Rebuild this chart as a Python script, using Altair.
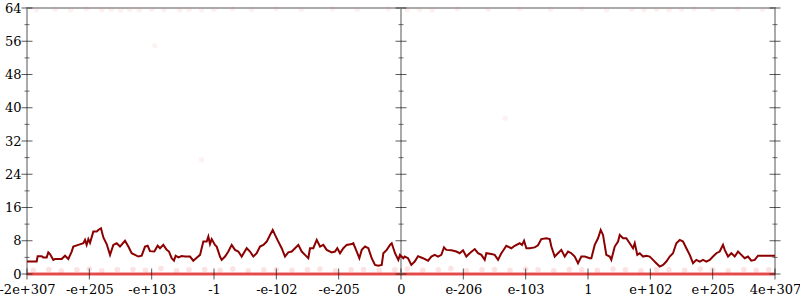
import altair as alt
import pandas as pd

# tick labels along x (evenly spaced ordinal-float positions)
x_labels = ["-2e+307", "-e+205", "-e+103", "-1", "-e-102", "-e-205", "0",
            "e-206", "e-103", "1", "e+102", "e+205", "4e+307"]
x_ticks = list(range(13))
y_major = [0, 8, 16, 24, 32, 40, 48, 56, 64]
y_minor = [4, 12, 20, 28, 36, 44, 52, 60]
axis_positions = [0, 6, 12]

# main error line (position index, bits of error)
line_x = [0.00, 0.155, 0.171, 0.235, 0.262, 0.316, 0.342, 0.369, 0.422, 0.449, 0.556, 0.610,
          0.663, 0.717, 0.743, 0.823, 0.904, 0.931, 0.957, 0.984, 1.011, 1.064, 1.118, 1.144,
          1.187, 1.225, 1.278, 1.332, 1.385, 1.439, 1.492, 1.572, 1.626, 1.679, 1.733, 1.786,
          1.840, 1.893, 1.936, 1.973, 2.043, 2.096, 2.134, 2.187, 2.241, 2.278, 2.321, 2.358,
          2.385, 2.428, 2.481, 2.535, 2.615, 2.668, 2.722, 2.776, 2.829, 2.883, 2.909, 2.936,
          2.963, 3.016, 3.043, 3.096, 3.123, 3.177, 3.230, 3.284, 3.337, 3.390, 3.444, 3.525,
          3.578, 3.631, 3.685, 3.738, 3.792, 3.846, 3.899, 3.942, 3.979, 4.032, 4.086, 4.139,
          4.192, 4.247, 4.300, 4.353, 4.407, 4.460, 4.513, 4.540, 4.593, 4.648, 4.701, 4.754,
          4.808, 4.888, 4.941, 4.978, 5.022, 5.075, 5.129, 5.209, 5.235, 5.290, 5.332, 5.370,
          5.423, 5.476, 5.530, 5.583, 5.636, 5.691, 5.717, 5.771, 5.824, 5.851, 5.904, 5.957,
          5.984, 6.037, 6.059, 6.113, 6.166, 6.220, 6.273, 6.353, 6.434, 6.487, 6.541, 6.594,
          6.647, 6.690, 6.727, 6.807, 6.888, 6.942, 6.995, 7.048, 7.102, 7.183, 7.236, 7.289,
          7.343, 7.369, 7.449, 7.503, 7.557, 7.610, 7.664, 7.690, 7.770, 7.824, 7.904, 7.941,
          7.974, 8.011, 8.065, 8.145, 8.198, 8.251, 8.332, 8.386, 8.412, 8.466, 8.519, 8.572,
          8.627, 8.680, 8.733, 8.787, 8.840, 8.893, 8.948, 9.028, 9.054, 9.108, 9.161, 9.204,
          9.241, 9.294, 9.349, 9.374, 9.429, 9.482, 9.509, 9.562, 9.615, 9.669, 9.722, 9.750,
          9.791, 9.830, 9.883, 9.936, 9.990, 10.043, 10.096, 10.151, 10.204, 10.257, 10.311,
          10.364, 10.417, 10.472, 10.525, 10.578, 10.632, 10.685, 10.738, 10.793, 10.846,
          10.899, 10.953, 11.006, 11.059, 11.113, 11.166, 11.194, 11.247, 11.300, 11.354,
          11.407, 11.460, 11.514, 11.567, 11.620, 11.675, 11.728, 12.0]
line_y = [3.0, 3.0, 4.3, 4.3, 4.0, 4.0, 5.2, 4.8, 3.4, 3.6, 3.6, 4.4,
          3.6, 5.4, 6.6, 7.0, 7.4, 8.2, 7.0, 8.4, 7.5, 10.2, 10.2, 10.6,
          11.0, 8.8, 7.2, 4.6, 7.0, 7.4, 6.6, 8.0, 6.6, 5.0, 4.6, 4.2,
          4.4, 6.6, 6.8, 5.5, 5.4, 6.8, 6.2, 7.0, 5.8, 5.4, 3.8, 3.2,
          4.4, 4.0, 4.3, 4.2, 4.2, 3.2, 3.9, 4.6, 7.8, 7.8, 9.0, 7.2,
          8.4, 7.0, 6.6, 4.2, 3.4, 4.2, 5.4, 7.0, 5.8, 5.4, 4.2, 6.2,
          5.4, 4.2, 5.0, 6.6, 7.0, 7.8, 9.4, 10.6, 9.4, 7.8, 6.2, 4.2,
          5.2, 5.4, 6.2, 7.0, 5.4, 4.6, 3.8, 6.2, 6.2, 8.2, 6.6, 7.0,
          5.8, 5.2, 5.4, 6.2, 5.0, 6.2, 7.0, 7.2, 7.4, 5.4, 3.8, 5.8,
          6.6, 6.2, 3.8, 2.2, 2.0, 2.2, 5.0, 5.8, 7.0, 7.4, 5.0, 3.4,
          4.6, 3.8, 4.2, 3.8, 2.2, 3.0, 4.3, 3.8, 3.2, 4.2, 4.6, 4.2,
          4.6, 6.4, 5.8, 5.7, 5.4, 5.0, 5.7, 4.2, 5.0, 6.0, 5.0, 4.6,
          3.4, 5.0, 4.8, 4.6, 3.4, 5.0, 6.2, 6.8, 6.2, 6.8, 7.4, 7.0,
          8.0, 6.2, 6.2, 6.4, 6.9, 8.4, 8.6, 8.4, 6.6, 4.2, 5.0, 5.8,
          4.2, 5.4, 5.0, 4.2, 2.6, 4.2, 4.2, 3.8, 3.8, 7.0, 8.6, 10.6,
          9.4, 4.6, 4.2, 3.4, 6.6, 7.8, 9.4, 8.6, 8.6, 7.4, 6.2, 7.4,
          4.6, 5.0, 4.2, 4.4, 4.2, 3.4, 2.6, 1.8, 2.2, 3.0, 4.2,
          5.0, 7.4, 8.2, 7.8, 6.2, 4.6, 2.6, 3.4, 3.0, 3.4,
          3.0, 3.4, 4.2, 5.0, 5.4, 7.0, 5.8, 4.2, 5.0, 4.2,
          5.4, 4.6, 3.8, 4.2, 3.2, 3.4, 4.4, 4.4]

# faint sample points near zero error
low_x = [0.1, 0.35, 0.55, 0.8, 1.0, 1.2, 1.45, 1.7, 1.9, 2.15, 2.4, 2.6, 2.85, 3.1,
         3.3, 3.55, 3.8, 4.0, 4.25, 4.5, 4.7, 4.95, 5.2, 5.4, 5.65, 5.9, 6.1, 6.35,
         6.6, 6.8, 7.05, 7.3, 7.5, 7.75, 8.0, 8.2, 8.45, 8.7, 8.9, 9.15, 9.4, 9.6,
         9.85, 10.1, 10.3, 10.55, 10.8, 11.0, 11.25, 11.5, 11.7, 11.9]
low_y = [0.9, 1.1, 0.7, 1.0, 1.2, 0.8, 1.0, 1.1, 0.9, 1.3, 0.8, 1.0, 1.1, 0.9,
         1.2, 0.8, 1.0, 1.1, 0.9, 1.0, 1.2, 0.8, 1.0, 1.1, 0.9, 1.0, 1.2, 0.9,
         1.0, 1.3, 0.8, 1.0, 1.1, 0.9, 1.2, 1.0, 0.8, 1.1, 1.0, 0.9, 1.2, 1.0,
         0.8, 1.1, 1.0, 0.9, 1.2, 1.0, 0.8, 1.1, 0.9, 1.0]

# faint sample points near maximum error
high_x = [0.15, 0.45, 0.7, 0.95, 1.2, 1.35, 1.5, 1.65, 1.8, 2.0, 2.2, 2.45, 2.6, 2.8,
          3.0, 3.3, 3.6, 4.0, 4.4, 4.9, 5.3, 5.8, 6.1, 6.3, 6.5, 6.9, 7.4, 7.9, 8.4,
          8.9, 9.3, 9.7, 9.9, 10.1, 10.3, 10.5, 10.7, 11.0, 11.4, 11.8]
high_y = [63.6, 63.7, 63.6, 63.8, 63.6, 63.7, 63.5, 63.7, 63.6, 63.7, 63.6, 63.5, 63.7, 63.6,
          63.7, 63.8, 63.7, 63.8, 63.7, 63.8, 63.7, 63.8, 63.6, 63.7, 63.6, 63.8, 63.7, 63.8,
          63.7, 63.8, 63.6, 63.7, 63.6, 63.7, 63.6, 63.7, 63.8, 63.7, 63.8, 63.7]

stray_x = [2.05, 7.67, 2.8]
stray_y = [54.9, 37.5, 27.5]

FONT = "DejaVu Serif"
XS = alt.Scale(domain=[0, 12], nice=False, zero=False)
YS = alt.Scale(domain=[0, 64], nice=False, zero=False)

line_df = pd.DataFrame({"x": line_x, "y": line_y})
low_df = pd.DataFrame({"x": low_x, "y": low_y})
high_df = pd.DataFrame({"x": high_x, "y": high_y})
stray_df = pd.DataFrame({"x": stray_x, "y": stray_y})
band_df = pd.DataFrame({"x": [x_ticks[0]], "x2": [x_ticks[-1]], "y": [0]})
mid_df = pd.DataFrame({"x": [axis_positions[1]], "y": [y_major[0]], "y2": [y_major[-1]]})
ymaj_df = pd.DataFrame([{"x": a, "y": v} for a in axis_positions for v in y_major])
ymin_df = pd.DataFrame([{"x": a, "y": v} for a in axis_positions for v in y_minor])
xt_df = pd.DataFrame({"x": x_ticks, "y": [0] * len(x_ticks)})

label_js = "[" + ",".join("'%s'" % s for s in x_labels) + "][datum.value]"

common = dict(title=None, ticks=False, tickSize=0, domain=False, grid=False,
              labelFont=FONT, labelFontSize=13, labelColor="#000",
              labelFlush=False, labelOverlap=False, labelBound=False)
X_AXIS = alt.Axis(values=x_ticks, labelExpr=label_js, labelPadding=9, **common)
Y_AXIS = alt.Axis(values=y_major, labelPadding=6, **common)

xq = alt.X("x:Q", scale=XS, axis=X_AXIS)
yq = alt.Y("y:Q", scale=YS, axis=Y_AXIS)

band = alt.Chart(band_df).mark_rule(color="#e8403f", strokeWidth=3, opacity=0.9).encode(
    x=xq, x2="x2:Q", y=yq)
low = alt.Chart(low_df).mark_circle(color="#f06060", size=30, opacity=0.18).encode(x=xq, y=yq)
high = alt.Chart(high_df).mark_circle(color="#f08080", size=30, opacity=0.12).encode(x=xq, y=yq)
stray = alt.Chart(stray_df).mark_circle(color="#f08080", size=30, opacity=0.1).encode(x=xq, y=yq)
mid = alt.Chart(mid_df).mark_rule(color="#aaaaaa", strokeWidth=2).encode(x=xq, y=yq, y2="y2:Q")
ymaj = alt.Chart(ymaj_df).mark_tick(orient="horizontal", color="#111", size=11, thickness=1).encode(x=xq, y=yq)
ymin = alt.Chart(ymin_df).mark_tick(orient="horizontal", color="#333", size=5, thickness=1).encode(x=xq, y=yq)
xt = alt.Chart(xt_df).mark_tick(orient="vertical", color="#111", size=11, thickness=1).encode(x=xq, y=yq)
line = alt.Chart(line_df).mark_line(color="#8b0000", strokeWidth=2).encode(x=xq, y=yq)

chart = alt.layer(band, low, high, stray, mid, ymaj, ymin, xt, line).properties(
    width=748, height=266,
    background="white",
    autosize=alt.AutoSizeParams(type="none"),
    padding={"left": 27, "top": 8, "right": 25, "bottom": 26},
).configure_view(stroke="#aaaaaa", strokeWidth=2)

chart.save("out.html", embed_options={"renderer": "svg", "actions": False})
